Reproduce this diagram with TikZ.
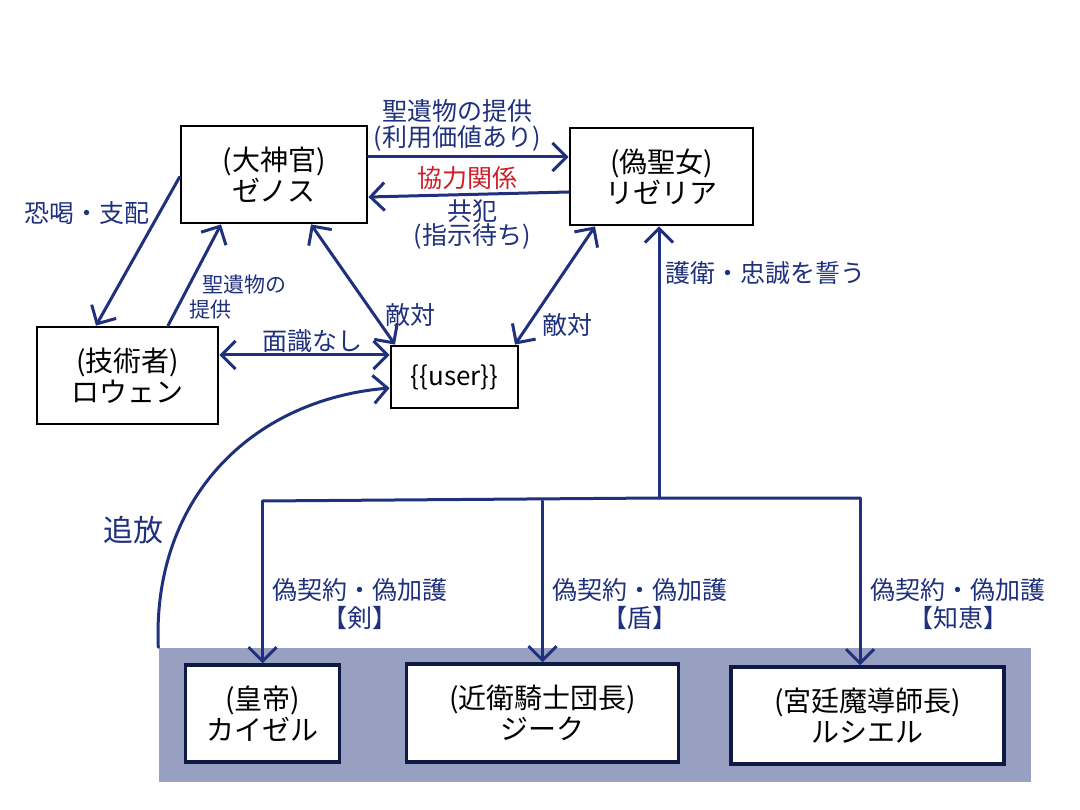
\documentclass[tikz,border=0pt]{standalone}
\usepackage{fontspec}
\setmainfont{Noto Sans CJK JP}
\usetikzlibrary{arrows.meta}
\definecolor{navy}{RGB}{31,48,125}
\definecolor{relred}{RGB}{205,30,40}
\definecolor{bgfill}{RGB}{151,160,193}
\definecolor{boxnavy}{RGB}{15,25,70}
\begin{document}
\begin{tikzpicture}[x=1pt,y=-1pt,
  person/.style={draw=black, line width=2.8pt, fill=white, align=center, inner sep=0pt,
    font=\fontsize{28}{31}\selectfont},
  lowbox/.style={person, draw=boxnavy, line width=3.5pt},
  conn/.style={draw=navy, line width=3pt, line cap=round, -{Straight Barb[length=14pt,width=28pt]}},
  both/.style={draw=navy, line width=3pt, line cap=round, {Straight Barb[length=14pt,width=28pt]}-{Straight Barb[length=14pt,width=28pt]}},
  plain/.style={draw=navy, line width=3pt},
  lab/.style={text=navy, font=\fontsize{25}{26}\selectfont, align=center, inner sep=0pt}
]
\useasboundingbox (0,0) rectangle (1080,810);

% background band
\node[fill=bgfill, minimum width=872pt, minimum height=134pt, inner sep=0pt] (bg) at (594.5,714.5) {};

% nodes
\node[person, minimum width=186pt, minimum height=97pt] (zenos) at (274,174.5) {(大神官)\\ゼノス};
\node[person, minimum width=183pt, minimum height=97pt] (liz) at (661.5,176.5) {(偽聖女)\\リゼリア};
\node[person, minimum width=181pt, minimum height=97pt] (rowen) at (127.5,375.5) {(技術者)\\ロウェン};
\node[person, minimum width=127pt, minimum height=62pt, font=\fontsize{26}{28}\selectfont] (user) at (454.5,377) {\{\{user\}\}};

\node[lowbox, minimum width=154pt, minimum height=97pt] (kaizel) at (262.5,713.5) {(皇帝)\\カイゼル};
\node[lowbox, minimum width=272pt, minimum height=98pt] (zeek) at (542.5,713) {(近衛騎士団長)\\ジーク};
\node[lowbox, minimum width=273pt, minimum height=97pt] (lucier) at (867.5,715.5) {(宮廷魔導師長)\\ルシエル};

% bus coordinates
\coordinate (busL) at (262.5,501);
\coordinate (busC) at (659,498);
\coordinate (busR) at (860,498);

% connectors top
\draw[conn] ([yshift=17.5pt]zenos.east) -- ([yshift=19.5pt]liz.west);
\draw[conn] ([yshift=-15.5pt]liz.west) -- ([yshift=-22.5pt]zenos.east);
\draw[conn] ([yshift=-2.5pt]zenos.west) -- ([xshift=-31.5pt]rowen.north);
\draw[conn] ([xshift=40.5pt]rowen.north) -- ([xshift=-53pt]zenos.south);
\draw[both] ([xshift=37pt]zenos.south) -- ([xshift=-59.5pt]user.north);
\draw[both] ([yshift=20.5pt]rowen.east) -- ([yshift=22pt]user.west);
\draw[both] ([xshift=-66.5pt]liz.south) -- ([xshift=60.5pt]user.north);
\draw[conn] (busC) -- ([xshift=-2.5pt]liz.south);

% bus and drops
\draw[plain] (busL) -- (busC) -- (busR);
\draw[conn] (busL) -- (kaizel.north);
\draw[conn] (busL -| zeek.north) -- (zeek.north);
\draw[conn] (busR) -- (busR |- lucier.north);

% exile curve
\draw[conn] (bg.north west) .. controls (152,500) and (250,400) .. ([yshift=-11pt]user.west);

% labels
\node[lab] (l1) at (457,125) {聖遺物の提供\\(利用価値あり)};
\node[lab, text=relred] (l2) at (467,178) {協力関係};
\node[lab, font=\fontsize{25}{24}\selectfont] (l3) at (472,225) {共犯\\(指示待ち)};
\node[lab] (l4) at (87,213) {恐喝・支配};
\node[lab, font=\fontsize{21}{25}\selectfont, align=left, anchor=west] (l5) at (189,297) {\hspace{13pt}聖遺物の\\提供};
\node[lab] (l6) at (410,315) {敵対};
\node[lab] (l7) at (312,341) {面識なし};
\node[lab] (l8) at (567,325) {敵対};
\node[lab, anchor=west] (l9) at (665,273) {護衛・忠誠を誓う};
\node[lab, font=\fontsize{30}{32}\selectfont] (l10) at (133,530) {追放};
\node[lab, font=\fontsize{25}{28}\selectfont] (l11) at (360,604) {偽契約・偽加護\\【剣】};
\node[lab, font=\fontsize{25}{28}\selectfont] (l12) at (640,604) {偽契約・偽加護\\【盾】};
\node[lab, font=\fontsize{25}{28}\selectfont] (l13) at (958,604) {偽契約・偽加護\\【知恵】};
\end{tikzpicture}
\end{document}
